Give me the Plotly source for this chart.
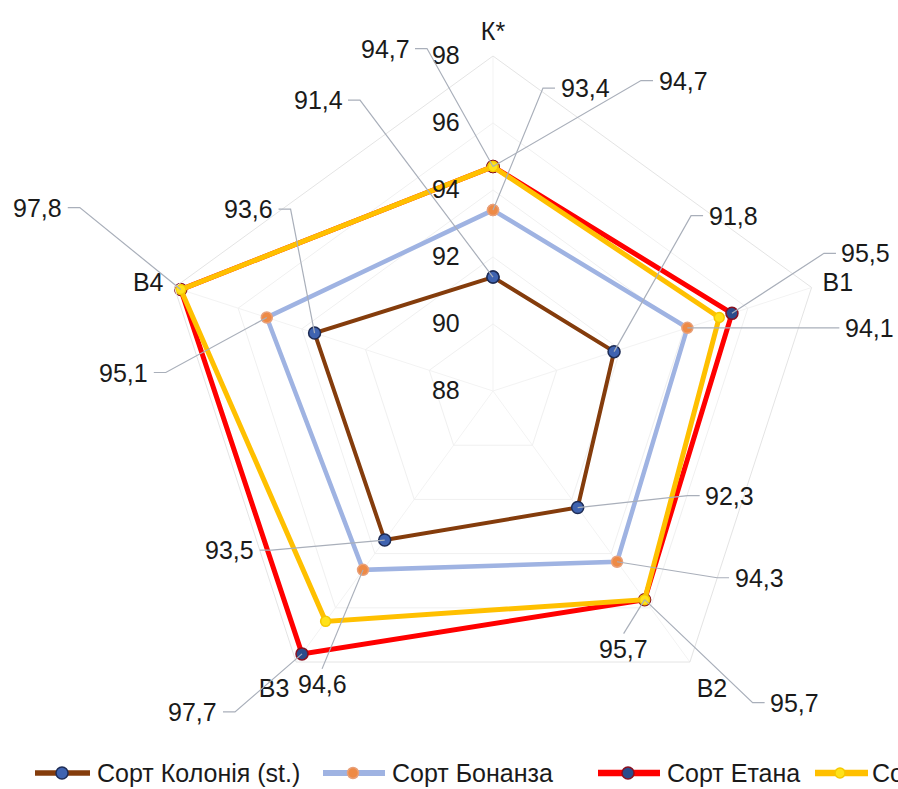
import math
import plotly.graph_objects as go

# ---- data -------------------------------------------------------------
categories = ["К*", "В1", "В2", "В3", "В4"]
series_names = ["Сорт Колонія (st.)", "Сорт Бонанза", "Сорт Етана", "Сорт Сонора"]
kolonia = [91.4, 91.8, 92.3, 93.5, 93.6]
bonanza = [93.4, 94.1, 94.3, 94.6, 95.1]
etana = [94.7, 95.5, 95.7, 97.7, 97.8]
sonora = [94.7, 95.1, 95.7, 96.5, 97.8]
radial_ticks = [88, 90, 92, 94, 96, 98]
r_min, r_max = 88, 98

series_values = [kolonia, bonanza, etana, sonora]

# ---- styles -----------------------------------------------------------
line_colors = ["#843C0C", "#9FB3E2", "#FF0000", "#FFC000"]
line_widths = [4, 4.5, 5, 5]
marker_fill = ["#3F63B0", "#EE8A45", "#2C4C8C", "#FFE21A"]
marker_edge = ["#1E2C55", "#E8A07A", "#8A1020", "#F5C800"]
marker_sizes = [12, 11, 12, 10]
FONT = "Liberation Sans, Arial, sans-serif"
TXT = "#1a1a1a"
LEADER = "#A9AFBA"

W, H = 898, 789
CX, CY, RAD = 493, 391, 335          # polar centre and outer radius (px)
dom_x = [(CX - RAD) / W, (CX + RAD) / W]
dom_y = [1 - (CY + RAD) / H, 1 - (CY - RAD) / H]

# data-label placement: (series, category) -> (dx, dy offset of label centre, leader side)
label_layout = {
    (0, 0): (-175, -177, "right"), (1, 0): (92, -122, "left"),
    (2, 0): (-108, -118, "right"), (3, 0): (190, -86, "left"),
    (0, 1): (119, -136, "left"), (1, 1): (182, 0, "left"), (2, 1): (134, -60, "left"),
    (0, 2): (152, -12, "left"), (1, 2): (142, 16, "left"),
    (2, 2): (-21, 49, "top"), (3, 2): (150, 103, "left"),
    (0, 3): (-155, 10, "right"), (1, 3): (-41, 114, "top"), (2, 3): (-109, 58, "right"),
    (0, 4): (-66, -124, "right"), (1, 4): (-143, 55, "right"), (2, 4): (-143, -82, "right"),
}

step = 360 / len(categories)


def to_px(r, deg):
    """Pixel position of a value on the radar (same geometry as the polar subplot)."""
    rr = (r - r_min) / (r_max - r_min) * RAD
    a = math.radians(deg)
    return CX + rr * math.sin(a), CY - rr * math.cos(a)


def paper(x, y):
    return x / W, 1 - y / H


fig = go.Figure()

for i, vals in enumerate(series_values):
    fig.add_trace(go.Scatterpolar(
        r=vals + vals[:1], theta=categories + categories[:1],
        mode="lines+markers", name=series_names[i], showlegend=False,
        line=dict(color=line_colors[i], width=line_widths[i]),
        marker=dict(size=marker_sizes[i], color=marker_fill[i],
                    line=dict(color=marker_edge[i], width=1.5)),
    ))

# data labels with leader lines
shapes, annotations = [], []
for (si, ci), (dx, dy, side) in label_layout.items():
    v = series_values[si][ci]
    px, py = to_px(v, ci * step)
    lx, ly = px + dx, py + dy
    if side == "right":
        pts = [(lx + 30, ly), (lx + 42, ly)]
    elif side == "left":
        pts = [(lx - 30, ly), (lx - 42, ly)]
    else:
        pts = [(lx, ly - 15)]
    path_pts = [(px, py)] + list(reversed(pts))
    d = "M " + " L ".join("{:.5f},{:.5f}".format(*paper(x, y)) for x, y in path_pts)
    shapes.append(dict(type="path", xref="paper", yref="paper", path=d,
                       line=dict(color=LEADER, width=1.2), layer="above"))
    ax_, ay_ = paper(lx, ly)
    annotations.append(dict(
        xref="paper", yref="paper", x=ax_, y=ay_, xanchor="center",
        yanchor="middle", showarrow=False, text=f"{v:.1f}".replace(".", ","),
        font=dict(family=FONT, size=25, color=TXT)))

# legend drawn along the bottom edge
legend_x = [(35, 90, 62, 95), (323, 385, 353, 390), (598, 660, 628, 665), (815, 868, 840, 870)]
legend_y = 773
for i, (x0, x1, xm, xt) in enumerate(legend_x):
    yy = 1 - legend_y / H
    shapes.append(dict(type="line", xref="paper", yref="paper", x0=x0 / W, x1=x1 / W,
                       y0=yy, y1=yy, line=dict(color=line_colors[i], width=line_widths[i] + 1.5)))
    s = marker_sizes[i] / 2
    shapes.append(dict(type="circle", xref="paper", yref="paper", xsizemode="pixel",
                       ysizemode="pixel", xanchor=xm / W, yanchor=yy, x0=-s, x1=s, y0=-s, y1=s,
                       fillcolor=marker_fill[i], line=dict(color=marker_edge[i], width=1.5)))
    annotations.append(dict(xref="paper", yref="paper", x=xt / W, y=yy, xanchor="left",
                            yanchor="middle", showarrow=False, text=series_names[i],
                            font=dict(family=FONT, size=25, color=TXT)))

fig.update_layout(
    width=W, height=H, margin=dict(l=0, r=0, t=0, b=0),
    paper_bgcolor="white", showlegend=False,
    font=dict(family=FONT, size=25, color=TXT),
    polar=dict(
        domain=dict(x=dom_x, y=dom_y), bgcolor="rgba(0,0,0,0)", gridshape="linear",
        angularaxis=dict(type="category", categoryarray=categories, rotation=90,
                         direction="clockwise", showline=True, linecolor="#E4E4E4",
                         linewidth=1, gridcolor="#F3F3F3", ticks="outside", ticklen=6,
                         tickcolor="rgba(0,0,0,0)", tickfont=dict(size=25, color=TXT)),
        radialaxis=dict(range=[r_min, r_max], tickvals=radial_ticks, angle=90,
                        side="counterclockwise", showline=False, gridcolor="#F0F0F0",
                        ticks="outside", ticklen=24, tickcolor="rgba(0,0,0,0)",
                        tickangle=90, tickfont=dict(size=25, color=TXT)),
    ),
    shapes=shapes, annotations=annotations,
)

fig.write_html("out.html")
